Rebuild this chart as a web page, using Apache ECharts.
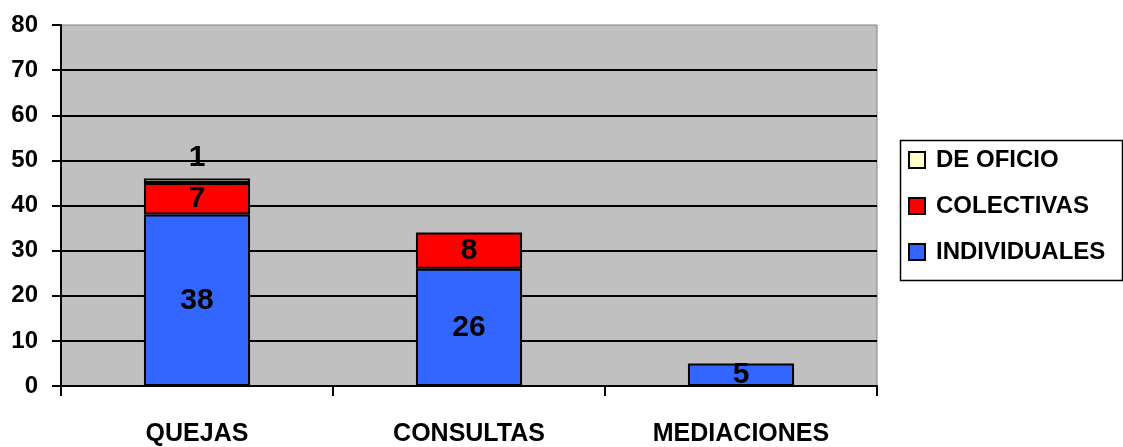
<!DOCTYPE html>
<html>
<head>
<meta charset="utf-8">
<script src="https://cdn.jsdelivr.net/npm/echarts@6/dist/echarts.min.js"></script>
<style>
  html, body { margin: 0; padding: 0; background: #fff; }
  #chart { width: 1123px; height: 447px; }
</style>
</head>
<body>
<div id="chart"></div>
<script>
const categories = ['QUEJAS', 'CONSULTAS', 'MEDIACIONES'];
const individuales = [38, 26, 5];
const colectivas = [7, 8, '-'];
const deOficio = [1, '-', '-'];
const yTicks = { min: 0, max: 80, interval: 10 };

const FONT = 'Liberation Sans';

function labelStyle(pos, dist) {
    return {
        show: true,
        position: pos,
        distance: dist || 0,
        color: '#000',
        fontFamily: FONT,
        fontWeight: 'bold',
        fontSize: 30
    };
}

function segment(name, data, color, label) {
    return {
        name: name,
        type: 'bar',
        stack: 'total',
        data: data,
        barCategoryGap: '61%',
        itemStyle: { color: color, borderColor: '#000', borderWidth: 2 },
        label: label
    };
}

const chart = echarts.init(document.getElementById('chart'));
chart.setOption({
    animation: false,
    grid: {
        left: 61, right: 246, top: 25, bottom: 60,
        show: true,
        backgroundColor: '#c0c0c0',
        borderColor: '#808080',
        borderWidth: 1
    },
    legend: {
        orient: 'vertical',
        left: 908,
        top: 148,
        padding: 0,
        itemGap: 22,
        itemWidth: 16,
        itemHeight: 16,
        icon: 'rect',
        data: ['DE OFICIO', 'COLECTIVAS', 'INDIVIDUALES'],
        textStyle: {
            color: '#000',
            fontFamily: FONT,
            fontWeight: 'bold',
            fontSize: 24,
            lineHeight: 24,
            padding: [0, 0, 0, 6]
        }
    },
    graphic: [{
        type: 'rect',
        left: 898,
        top: 138,
        shape: { width: 222, height: 140 },
        style: { fill: 'none', stroke: '#000', lineWidth: 1.5 },
        z: 0
    }],
    xAxis: {
        type: 'category',
        data: categories,
        axisLine: { lineStyle: { color: '#000', width: 2 } },
        axisTick: { show: true, length: 10, lineStyle: { color: '#000', width: 2 } },
        axisLabel: {
            margin: 36,
            color: '#000',
            fontFamily: FONT,
            fontWeight: 'bold',
            fontSize: 25
        }
    },
    yAxis: {
        type: 'value',
        min: yTicks.min,
        max: yTicks.max,
        interval: yTicks.interval,
        axisLine: { show: true, lineStyle: { color: '#000', width: 2 } },
        axisTick: { show: true, length: 9, lineStyle: { color: '#000', width: 2 } },
        splitLine: { show: true, showMaxLine: false, lineStyle: { color: '#000', width: 2 } },
        axisLabel: {
            margin: 23,
            color: '#000',
            fontFamily: FONT,
            fontWeight: 'bold',
            fontSize: 24
        }
    },
    series: [
        segment('INDIVIDUALES', individuales, '#3366ff', labelStyle('inside')),
        segment('COLECTIVAS', colectivas, '#ff0000', labelStyle('inside')),
        segment('DE OFICIO', deOficio, '#ffffcc', labelStyle('top', 6))
    ]
});
</script>
</body>
</html>
